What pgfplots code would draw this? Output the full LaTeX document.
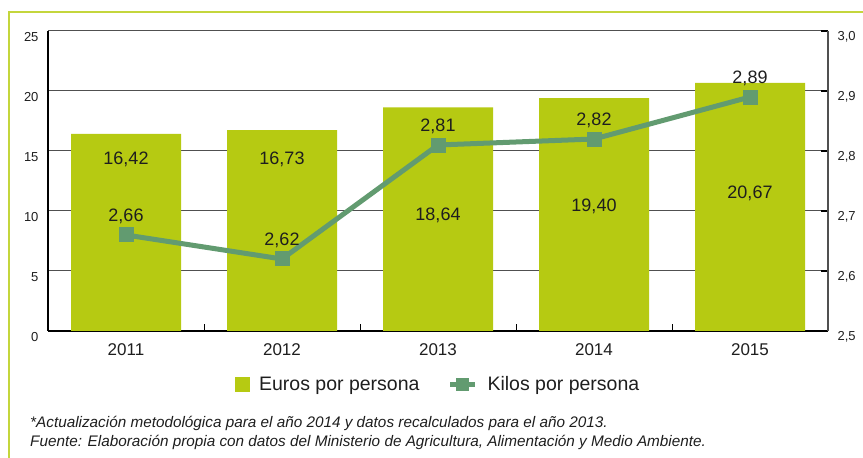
\documentclass[border=0pt]{standalone}
\usepackage{pgfplots}
\pgfplotsset{compat=1.18}
\usepackage{fontspec}
\setmainfont{Liberation Sans}
\definecolor{barc}{RGB}{182,202,18}
\definecolor{borderc}{RGB}{196,214,60}
\definecolor{linec}{RGB}{98,155,112}
\definecolor{txt}{RGB}{30,30,30}
\definecolor{gridc}{RGB}{80,80,80}
\pgfplotsset{
  barlegend/.style={legend image code/.code={\fill[barc] (0pt,-7pt) rectangle (14pt,7pt);}},
  linelegend/.style={legend image code/.code={\draw[##1, mark size=6pt, mark repeat=2, mark phase=2] plot coordinates {(0pt,0pt)(12.5pt,0pt)(25pt,0pt)};}},
}
\begin{document}
\begin{tikzpicture}
\useasboundingbox (0pt,0pt) rectangle (863pt,458pt);
\draw[borderc, line width=1.5pt] (9pt,0pt) -- (9pt,446pt) -- (870pt,446pt);
\begin{axis}[
  at={(48pt,127pt)}, anchor=south west, scale only axis,
  width=780pt, height=300pt,
  xmin=-0.5, xmax=4.5, ymin=0, ymax=25,
  axis lines*=left,
  axis line style={black, line width=1.2pt},
  ytick={0,5,10,15,20,25},
  yticklabels={0,5,10,15,20,25},
  ymajorgrids, grid style={gridc, line width=1pt},
  xtick={0,1,2,3,4},
  xticklabels={2011,2012,2013,2014,2015},
  minor xtick={0.5,1.5,2.5,3.5},
  tick align=inside,
  major tick length=0pt, minor tick length=7pt,
  minor tick style={black, line width=1pt},
  yticklabel style={font=\fontsize{13}{15}\selectfont, text=txt, xshift=-6pt, yshift=-6pt},
  xticklabel style={font=\fontsize{17}{19}\selectfont, text=txt, yshift=-9pt},
]
\addplot[ybar, bar width=110pt, fill=barc, draw=none] coordinates {
  (0,16.42) (1,16.73) (2,18.64) (3,19.40) (4,20.67)};
\begin{scope}[every node/.style={font=\fontsize{18}{20}\selectfont, text=txt}]
\node at (axis cs:0,14.3) {16,42};
\node at (axis cs:1,14.3) {16,73};
\node at (axis cs:2,9.6) {18,64};
\node at (axis cs:3,10.35) {19,40};
\node at (axis cs:4,11.5) {20,67};
\end{scope}
\end{axis}
\begin{axis}[
  at={(48pt,127pt)}, anchor=south west, scale only axis,
  width=780pt, height=300pt,
  xmin=-0.5, xmax=4.5, ymin=2.5, ymax=3.0,
  axis x line=none,
  axis y line*=right,
  axis line style={gridc, line width=1.2pt},
  ytick={2.5,2.6,2.7,2.8,2.9,3.0},
  yticklabels={{2,5},{2,6},{2,7},{2,8},{2,9},{3,0}},
  tick align=inside, major tick length=7pt,
  major tick style={black, line width=1.5pt},
  yticklabel style={font=\fontsize{13}{15}\selectfont, text=txt, xshift=6pt, yshift=-6pt},
  legend style={at={(0.5,-0.177)}, anchor=center, draw=none, fill=none,
    legend columns=2, font=\fontsize{19.5}{21}\selectfont, text=txt,
    /tikz/every odd column/.append style={column sep=8pt},
    /tikz/every even column/.append style={column sep=26pt}},
]
\addlegendimage{barlegend}
\addlegendentry{Euros por persona}
\addplot[linec, line width=5pt, mark=square*, mark size=7pt, mark options={linec, line width=0pt}, linelegend]
  coordinates {(0,2.66) (1,2.62) (2,2.81) (3,2.82) (4,2.89)};
\addlegendentry{Kilos por persona}
\begin{scope}[every node/.style={font=\fontsize{18}{20}\selectfont, text=txt, yshift=19pt}]
\node at (axis cs:0,2.66) {2,66};
\node at (axis cs:1,2.62) {2,62};
\node at (axis cs:2,2.81) {2,81};
\node at (axis cs:3,2.82) {2,82};
\node at (axis cs:4,2.89) {2,89};
\end{scope}
\end{axis}
\begin{scope}[every node/.style={font=\itshape\fontsize{15.3}{17}\selectfont, text=txt, anchor=base west, inner sep=0pt}]
\node at (30pt,30pt) {*Actualización metodológica para el año 2014 y datos recalculados para el año 2013.};
\node at (30pt,11pt) {Fuente: Elaboración propia con datos del Ministerio de Agricultura, Alimentación y Medio Ambiente.};
\end{scope}
\end{tikzpicture}
\end{document}
